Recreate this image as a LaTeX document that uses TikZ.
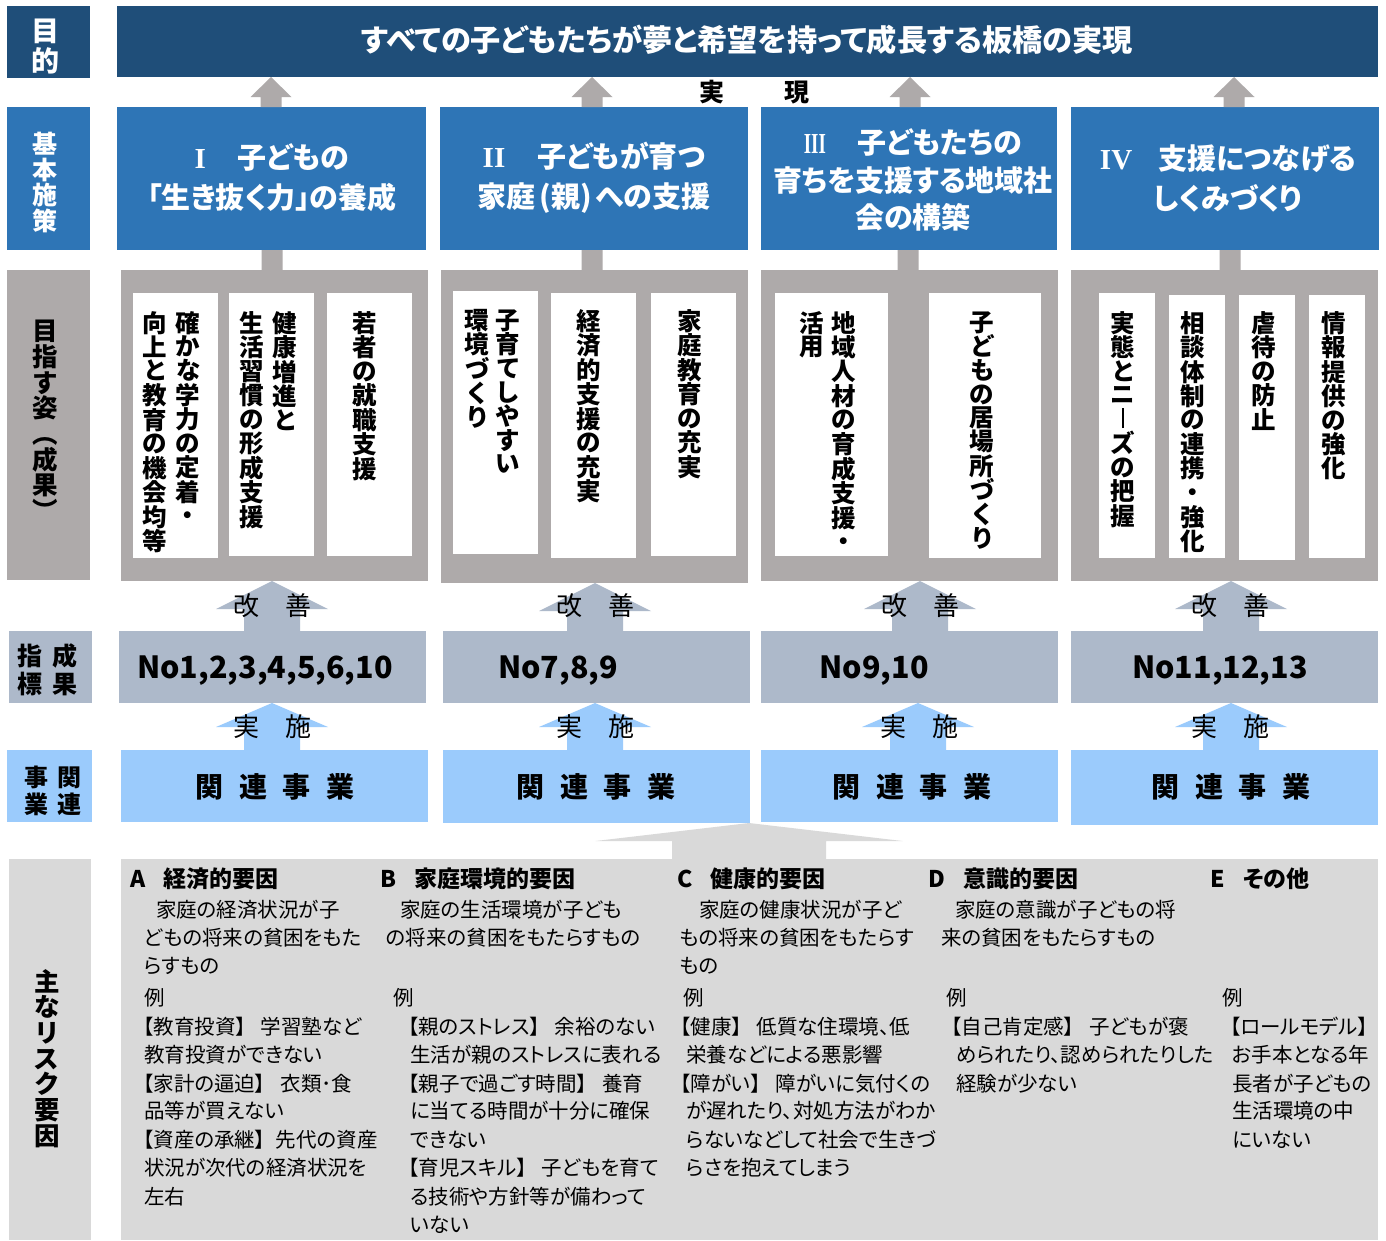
\documentclass[tikz,border=0pt]{standalone}
\usepackage{fontspec}
\usepackage{graphicx}
\setmainfont{Noto Sans CJK JP}[RawFeature=+palt]
\newfontfamily\romfont{Liberation Serif}
\usetikzlibrary{calc}
\definecolor{navy}{HTML}{1F4E79}
\definecolor{midblue}{HTML}{2E75B6}
\definecolor{warmgray}{HTML}{AEAAAA}
\definecolor{steel}{HTML}{ADB9CA}
\definecolor{skyblue}{HTML}{9BCBFC}
\definecolor{lightgray}{HTML}{D9D9D9}
\newcommand\jfs[1]{\fontsize{#1}{#1}\selectfont}
\newcommand\lbk{\makebox[1em][r]{【}}
\newcommand\rbk{\makebox[1em][l]{】}}
\newcommand\rn[1]{{\romfont\bfseries #1}}
\newdimen\vpitch
\def\tateaux#1{\ifx#1\relax\else\hbox to 1em{\hss\vrule height .85\vpitch depth .15\vpitch width 0pt\relax#1\hss}\expandafter\tateaux\fi}
\newcommand\tate[2][23.6pt]{\vtop{\offinterlineskip\vpitch=#1\relax\tateaux#2\relax}}
\def\jvbar{\lower.02em\hbox{\vrule width .12em height .8em depth 0pt}}
\newcommand\rb[6]{\node[#6,minimum width={(#4-#2)*1pt},minimum height={(#5-#3)*1pt}] (#1) at (#2,#3) {};}
% block arrow: #1 colour, #2 centre x, #3 apex anchor, #4 tail anchor, #5 head length, #6 head half width, #7 shaft half width
\newcommand\uparr[7]{\fill[#1] let \p1=(#3), \p2=(#4) in
  (#2pt,\y1) -- ({(#2+#6)*1pt},{\y1-#5pt}) -- ({(#2+#7)*1pt},{\y1-#5pt}) -- ({(#2+#7)*1pt},\y2)
  -- ({(#2-#7)*1pt},\y2) -- ({(#2-#7)*1pt},{\y1-#5pt}) -- ({(#2-#6)*1pt},{\y1-#5pt}) -- cycle;}
\begin{document}
\begin{tikzpicture}[x=1pt,y=-1pt,
 rbox/.style={rectangle,inner sep=0pt,outer sep=0pt,anchor=north west,draw=none},
 navybox/.style={rbox,fill=navy}, bluebox/.style={rbox,fill=midblue},
 graybox/.style={rbox,fill=warmgray}, card/.style={rbox,fill=white},
 kpibox/.style={rbox,fill=steel}, projbox/.style={rbox,fill=skyblue},
 riskbox/.style={rbox,fill=lightgray},
 vtxt/.style={inner sep=0pt,anchor=north,font=\bfseries\jfs{24.5}},
 lbl/.style={inner sep=0pt,anchor=north,font=\bfseries\jfs{25.5}},
 poltxt/.style={inner sep=0pt,align=center,text=white,font=\bfseries\fontsize{29}{40}\selectfont},
 kpitxt/.style={inner sep=0pt,font=\bfseries\jfs{30.5},text height=22.2pt,text depth=0pt},
 projtxt/.style={inner sep=0pt,font=\bfseries\jfs{28}},
 arrtxt/.style={inner sep=0pt,font=\jfs{26}},
 head/.style={inner sep=0pt,anchor=west,font=\bfseries\jfs{23},text height=20pt,text depth=3.5pt},
 body/.style={inner sep=0pt,anchor=west,font=\jfs{20.5},text height=17.5pt,text depth=3pt},
]
\useasboundingbox (0,0) rectangle (1386,1240);
\fill[white] (0,0) rectangle (1386,1240);

% Row 1: purpose
\rb{lab1}{7}{6}{90}{78}{navybox}
\rb{title}{117}{6}{1378}{77}{navybox}
\node[inner sep=0pt,text=white,font=\bfseries\jfs{30.2}] (titletext) at (747,40) {すべての子どもたちが夢と希望を持って成長する板橋の実現};
\node[lbl,text=white,font=\bfseries\jfs{28}] (lab1t) at (45,16) {\tate[30pt]{目的}};

% Row 2: basic policies
\rb{lab2}{7}{107}{90}{250}{bluebox}
\rb{b1}{117}{107}{426}{250}{bluebox}
\rb{b2}{440}{107}{748}{250}{bluebox}
\rb{b3}{761}{107}{1057}{250}{bluebox}
\rb{b4}{1071}{107}{1379}{250}{bluebox}
\node[lbl,text=white,font=\bfseries\jfs{25}] (lab2t) at (45,132) {\tate[25.5pt]{基本施策}};
\node[poltxt] (b1t) at (272,178) {\rn{I}\hskip1.1em子どもの\\「生き抜く力」の養成};
\node[poltxt] (b2t) at (594,178) {\rn{II}\hskip1.1em子どもが育つ\\家庭\hskip.12em(親)\hskip.12emへの支援};
\node[poltxt,font=\bfseries\fontsize{29}{37.5}\selectfont] (b3t) at (913,180) {\scalebox{0.65}[1]{\rn{III}}\hskip1.1em子どもたちの\\育ちを支援する地域社\\会の構築};
\node[poltxt] (b4t) at (1228,178) {\rn{IV}\hskip.9em支援につなげる\\しくみづくり};
\uparr{warmgray}{271}{title.south}{b1.north}{20}{20.5}{10.5}
\uparr{warmgray}{592}{title.south}{b2.north}{20}{20.5}{10.5}
\uparr{warmgray}{910}{title.south}{b3.north}{20}{20.5}{10.5}
\uparr{warmgray}{1234}{title.south}{b4.north}{20}{20.5}{10.5}
\node[inner sep=0pt,font=\bfseries\jfs{25}] (jitsugen) at (754.5,92) {実\hskip2.4em現};

% Row 3: goals
\rb{lab3}{7}{270}{90}{580}{graybox}
\node[lbl] (lab3t) at (45,319) {\tate[25.5pt]{目指す姿︵成果︶}};
\rb{g1}{121}{270}{428}{581}{graybox}
\rb{g2}{441}{270}{748}{583}{graybox}
\rb{g3}{761}{270}{1058}{581}{graybox}
\rb{g4}{1071}{270}{1378}{581}{graybox}
\uparr{warmgray}{272}{b1.south}{g1.north}{0}{10.5}{10.5}
\uparr{warmgray}{592}{b2.south}{g2.north}{0}{10.5}{10.5}
\uparr{warmgray}{908}{b3.south}{g3.north}{0}{10.5}{10.5}
\uparr{warmgray}{1230}{b4.south}{g4.north}{0}{10.5}{10.5}
\rb{c11}{133}{293}{218}{558}{card}
\rb{c12}{229}{293}{314}{556}{card}
\rb{c13}{327}{293}{412}{556}{card}
\rb{c21}{453}{291}{538}{554}{card}
\rb{c22}{551}{293}{636}{558}{card}
\rb{c23}{651}{293}{736}{556}{card}
\rb{c31}{775}{293}{888}{556}{card}
\rb{c32}{929}{293}{1041}{558}{card}
\rb{c41}{1099}{293}{1155}{558}{card}
\rb{c42}{1169}{295}{1225}{558}{card}
\rb{c43}{1239}{295}{1295}{560}{card}
\rb{c44}{1309}{295}{1365}{558}{card}
\node[vtxt] (c11t) at (171.5,311) {\tate{向上と教育の機会均等}\hskip8.5pt\tate{確かな学力の定着・}};
\node[vtxt] (c12t) at (268.5,311) {\tate{生活習慣の形成支援}\hskip8.5pt\tate{健康増進と}};
\node[vtxt] (c13t) at (365,311) {\tate{若者の就職支援}};
\node[vtxt] (c21t) at (492.5,309) {\tate{環境づくり}\hskip6.5pt\tate{子育てしやすい}};
\node[vtxt] (c22t) at (589,309) {\tate{経済的支援の充実}};
\node[vtxt] (c23t) at (690,309) {\tate{家庭教育の充実}};
\node[vtxt] (c31t) at (828,311) {\tate{活用}\hskip7.5pt\tate{地域人材の育成支援・}};
\node[vtxt] (c32t) at (982,311) {\tate{子どもの居場所づくり}};
\node[vtxt] (c41t) at (1123,311) {\tate{実態とニ\jvbar ズの把握}};
\node[vtxt] (c42t) at (1193,311) {\tate{相談体制の連携・強化}};
\node[vtxt] (c43t) at (1264,311) {\tate{虐待の防止}};
\node[vtxt] (c44t) at (1334,311) {\tate{情報提供の強化}};

% Row 4-5: indicators
\rb{lab4}{9}{631}{92}{703}{kpibox}
\node[inner sep=0pt,font=\bfseries\jfs{25}] (lab4t) at (47.5,670) {\tate[28pt]{指標}\hskip10pt\tate[28pt]{成果}};
\rb{n1}{119}{631}{426}{703}{kpibox}
\rb{n2}{443}{631}{750}{703}{kpibox}
\rb{n3}{761}{631}{1058}{703}{kpibox}
\rb{n4}{1071}{631}{1378}{703}{kpibox}
\node[kpitxt] (n1t) at (265,667) {No1,2,3,4,5,6,10};
\node[kpitxt] (n2t) at (558,667) {No7,8,9};
\node[kpitxt] (n3t) at (874,667) {No9,10};
\node[kpitxt] (n4t) at (1220,667) {No11,12,13};
\uparr{steel}{272}{g1.south}{n1.north}{28}{56}{28}
\uparr{steel}{595}{g2.south}{n2.north}{28}{56}{28}
\uparr{steel}{920}{g3.south}{n3.north}{28}{56}{28}
\uparr{steel}{1231}{g4.south}{n4.north}{28}{56}{28}
\node[arrtxt] (k1) at (272,606) {改\hskip1em善};
\node[arrtxt] (k2) at (595,606) {改\hskip1em善};
\node[arrtxt] (k3) at (920,606) {改\hskip1em善};
\node[arrtxt] (k4) at (1230,606) {改\hskip1em善};

% Row 6-7: related projects
\rb{lab5}{7}{750}{92}{822}{projbox}
\node[inner sep=0pt,font=\bfseries\jfs{24}] (lab5t) at (52.5,790.5) {\tate[27pt]{事業}\hskip9pt\tate[27pt]{関連}};
\rb{r1}{121}{750}{428}{822}{projbox}
\rb{r2}{443}{750}{750}{823}{projbox}
\rb{r3}{761}{750}{1058}{822}{projbox}
\rb{r4}{1071}{750}{1378}{825}{projbox}
\node[projtxt] (r1t) at (275,787) {関\hskip.55em連\hskip.55em事\hskip.55em業};
\node[projtxt] (r2t) at (596,787) {関\hskip.55em連\hskip.55em事\hskip.55em業};
\node[projtxt] (r3t) at (912,787) {関\hskip.55em連\hskip.55em事\hskip.55em業};
\node[projtxt] (r4t) at (1231,787) {関\hskip.55em連\hskip.55em事\hskip.55em業};
\uparr{skyblue}{272}{n1.south}{r1.north}{24}{56}{28}
\uparr{skyblue}{595}{n2.south}{r2.north}{24}{56}{28}
\uparr{skyblue}{918}{n3.south}{r3.north}{24}{56}{28}
\uparr{skyblue}{1231}{n4.south}{r4.north}{24}{56}{28}
\node[arrtxt] (s1) at (272,727) {実\hskip1em施};
\node[arrtxt] (s2) at (595,727) {実\hskip1em施};
\node[arrtxt] (s3) at (919,727) {実\hskip1em施};
\node[arrtxt] (s4) at (1230,727) {実\hskip1em施};

% Row 8: risk factors
\rb{lab6}{9}{859}{91}{1240}{riskbox}
\node[lbl] (lab6t) at (47,969) {\tate[25.7pt]{主なリスク要因}};
\rb{risk}{121}{859}{1378}{1240}{riskbox}
\uparr{lightgray}{749}{r2.south}{risk.north}{18}{153.5}{77}

\node[head] (hA) at (130,879) {A\hskip.8em経済的要因};
\node[head] (hB) at (380,879) {B\hskip.8em家庭環境的要因};
\node[head] (hC) at (677,879) {C\hskip.8em健康的要因};
\node[head] (hD) at (928,879) {D\hskip.8em意識的要因};
\node[head] (hE) at (1210,879) {E\hskip.8emその他};

% A
\node[body] (a1) at (156,910) {家庭の経済状況が子};
\node[body] (a2) at (144,938) {どもの将来の貧困をもた};
\node[body] (a3) at (144,966) {らすもの};
\node[body] (a4) at (144,998) {例};
\node[body] (a5) at (133,1027) {\lbk 教育投資\rbk\ 学習塾など};
\node[body] (a6) at (144,1055) {教育投資ができない};
\node[body] (a7) at (133,1084) {\lbk 家計の逼迫\rbk\ 衣類･食};
\node[body] (a8) at (144,1111) {品等が買えない};
\node[body] (a9) at (133,1140) {\lbk 資産の承継\rbk 先代の資産};
\node[body] (a10) at (144,1168) {状況が次代の経済状況を};
\node[body] (a11) at (144,1197) {左右};
% B
\node[body] (bb1) at (400,910) {家庭の生活環境が子ども};
\node[body] (bb2) at (386,938) {の将来の貧困をもたらすもの};
\node[body] (bb3) at (393,998) {例};
\node[body] (bb4) at (398,1027) {\lbk 親のストレス\rbk\ 余裕のない};
\node[body] (bb5) at (410,1055) {生活が親のストレスに表れる};
\node[body] (bb6) at (398,1084) {\lbk 親子で過ごす時間\rbk\ 養育};
\node[body] (bb7) at (410,1111) {に当てる時間が十分に確保};
\node[body] (bb8) at (410,1140) {できない};
\node[body] (bb9) at (398,1168) {\lbk 育児スキル\rbk\ 子どもを育て};
\node[body] (bb10) at (410,1197) {る技術や方針等が備わって};
\node[body] (bb11) at (410,1225) {いない};
% C
\node[body] (cc1) at (699,910) {家庭の健康状況が子ど};
\node[body] (cc2) at (679,938) {もの将来の貧困をもたらす};
\node[body] (cc3) at (679,966) {もの};
\node[body] (cc4) at (683,998) {例};
\node[body] (cc5) at (670,1027) {\lbk 健康\rbk\ 低質な住環境、低};
\node[body] (cc6) at (686,1055) {栄養などによる悪影響};
\node[body] (cc7) at (670,1084) {\lbk 障がい\rbk\ 障がいに気付くの};
\node[body] (cc8) at (686,1111) {が遅れたり、対処方法がわか};
\node[body] (cc9) at (686,1140) {らないなどして社会で生きづ};
\node[body] (cc10) at (686,1168) {らさを抱えてしまう};
% D
\node[body] (d1) at (955,910) {家庭の意識が子どもの将};
\node[body] (d2) at (941,938) {来の貧困をもたらすもの};
\node[body] (d3) at (946,998) {例};
\node[body] (d4) at (941,1027) {\lbk 自己肯定感\rbk\ 子どもが褒};
\node[body] (d5) at (956,1055) {められたり、認められたりした};
\node[body] (d6) at (956,1084) {経験が少ない};
% E
\node[body] (e1) at (1222,998) {例};
\node[body] (e2) at (1220,1027) {\lbk ロールモデル\rbk};
\node[body] (e3) at (1232,1055) {お手本となる年};
\node[body] (e4) at (1232,1084) {長者が子どもの};
\node[body] (e5) at (1232,1111) {生活環境の中};
\node[body] (e6) at (1232,1140) {にいない};
\end{tikzpicture}
\end{document}
